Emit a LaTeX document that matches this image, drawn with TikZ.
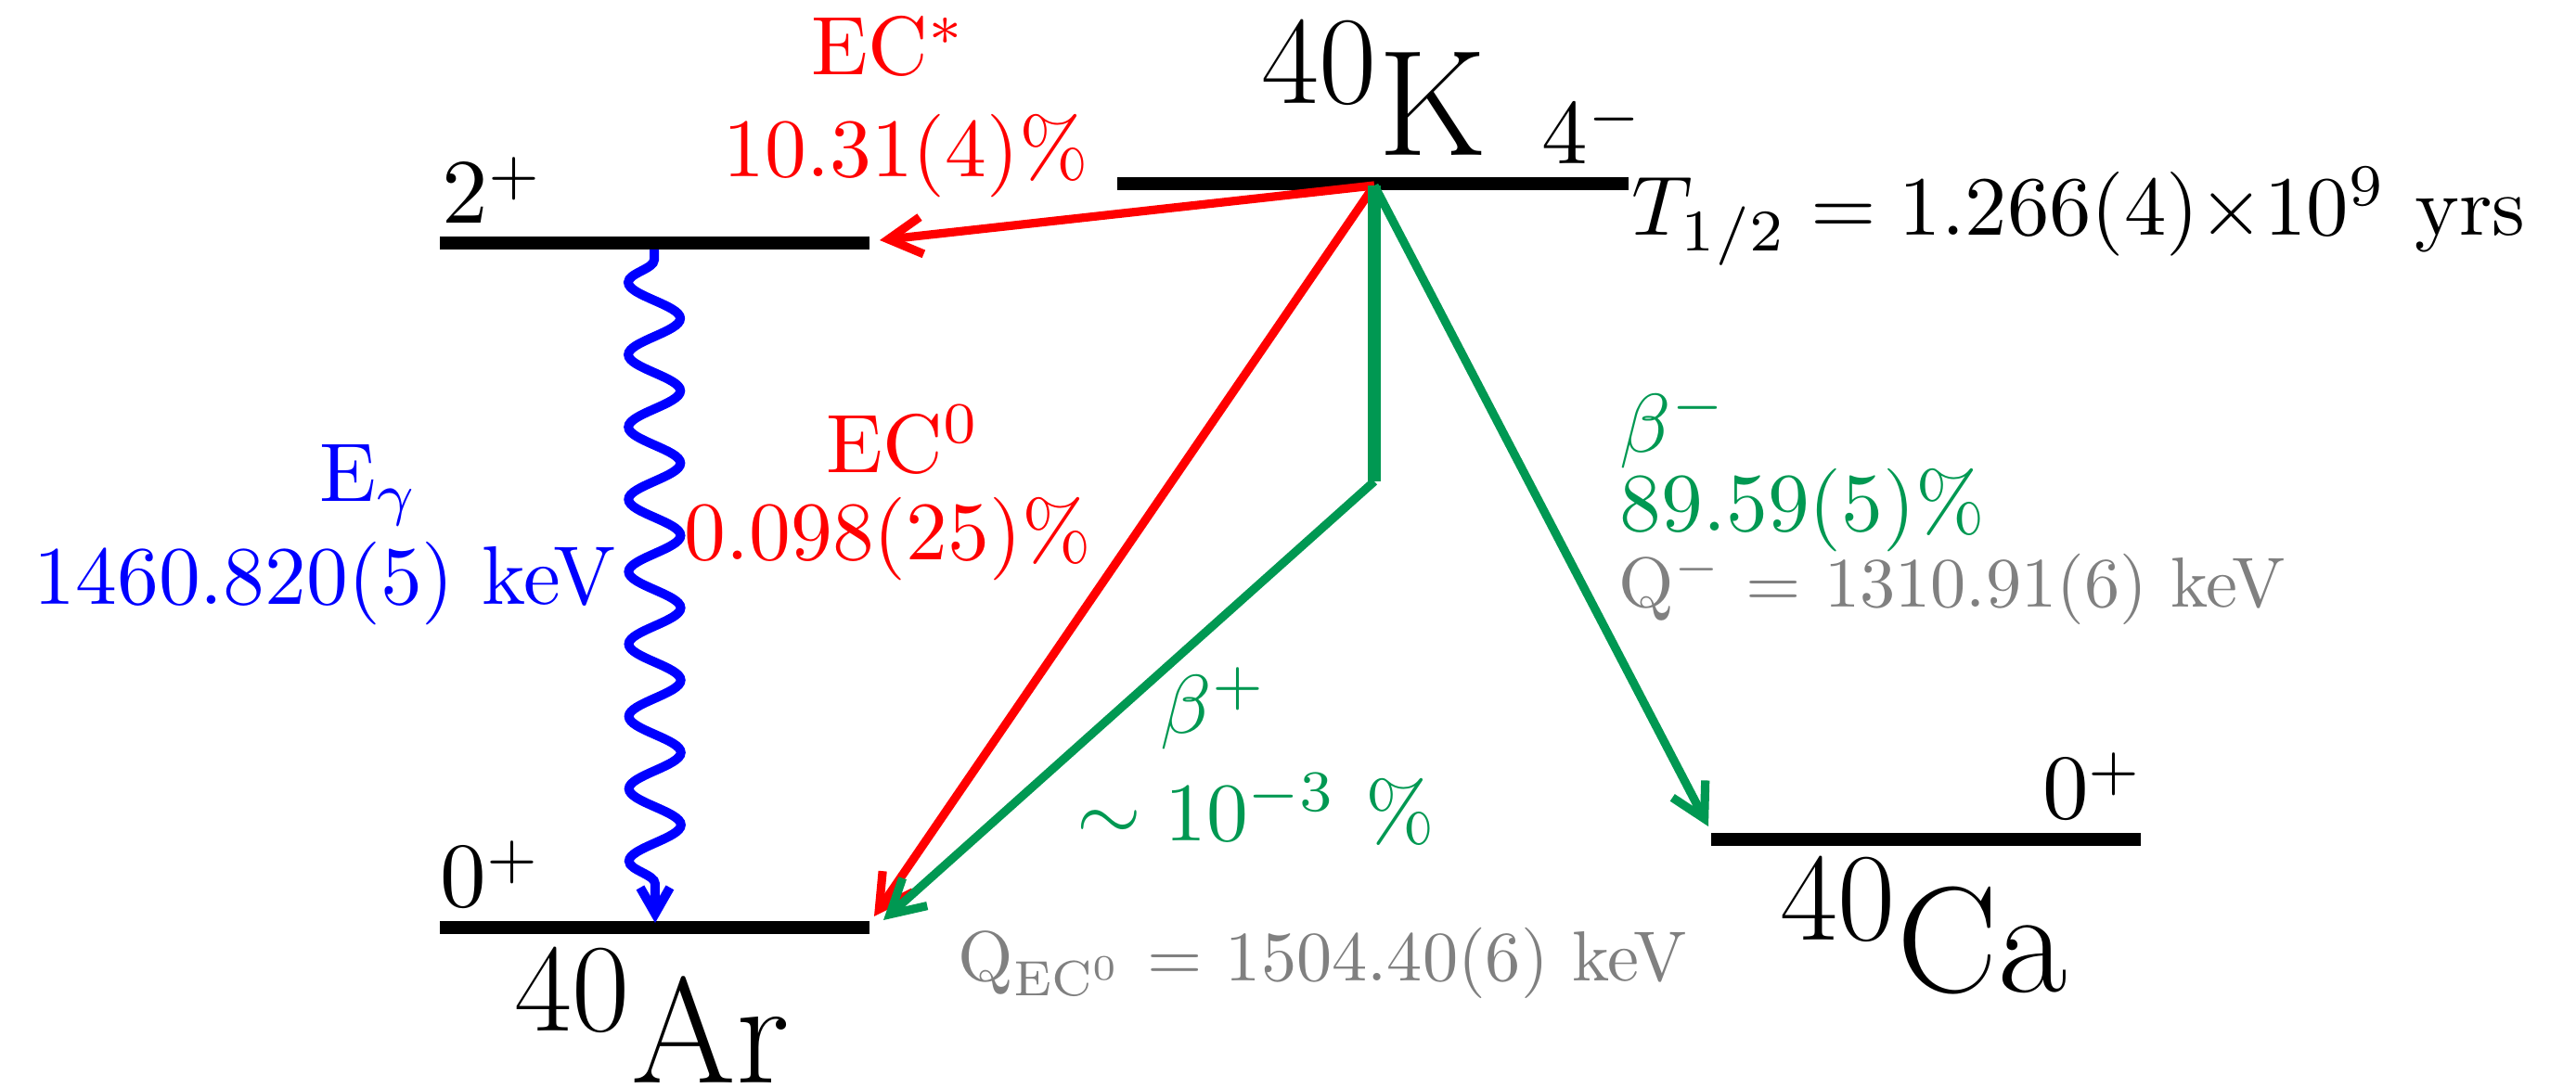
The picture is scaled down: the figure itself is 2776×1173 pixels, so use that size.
\RequirePackage{fix-cm}
\documentclass[tikz,border=0pt]{standalone}
\usepackage{graphicx}
\usetikzlibrary{arrows.meta,decorations.pathmorphing}
\definecolor{grn}{RGB}{0,152,82}
\definecolor{gry}{RGB}{128,128,128}
\newcommand\isotope[2]{\raisebox{14pt}{\fontsize{33.8}{40}\selectfont #1}\kern0.5pt{\fontsize{40.6}{48}\selectfont #2}}
\newcommand\Lt[1]{\scalebox{2.24}{#1}}
\newcommand\Lq[1]{\scalebox{1.91}{#1}}
\newcommand\Ll[1]{\scalebox{2.48}{#1}}
\newcommand\spin[2]{\Ll{#1}\Lt{$^{#2}$}}
\tikzset{
  level/.style={line width=3.5pt},
  lbl/.style={inner sep=0pt, anchor=base west},
  qlbl/.style={lbl, text=gry},
  iso/.style={inner sep=0pt, anchor=base west},
  arr/.style={line width=2.3pt, -{Straight Barb[length=9pt,width=10pt]}},
  wave/.style={blue, line width=2.5pt, -{Straight Barb[length=7pt,width=8pt]},
    decorate, decoration={snake, mirror, segment length=19.5pt, amplitude=7pt, pre length=2.75pt, post length=8.75pt}}
}
\begin{document}
\begin{tikzpicture}[x=0.25pt,y=-0.25pt]
\useasboundingbox (0,0) rectangle (2776,1173);
% levels
\coordinate (K1) at (1204,198); \coordinate (K2) at (1755,198);
\coordinate (AE1) at (474,262); \coordinate (AE2) at (937,262);
\coordinate (AG1) at (474,1000); \coordinate (AG2) at (937,1000);
\coordinate (C1) at (1844,905); \coordinate (C2) at (2307,905);
\draw[level] (K1) -- (K2);
\draw[level] (AE1) -- (AE2);
\draw[level] (AG1) -- (AG2);
\draw[level] (C1) -- (C2);
% transition end points
\coordinate (O) at (1481,200);
\coordinate (ECsE) at (948,259);
\coordinate (EC0E) at (942,988);
\coordinate (BpC) at (1481,519);
\coordinate (BpE) at (952,992);
\coordinate (BmE) at (1841,891);
\coordinate (GS) at (705,269);
\coordinate (GE) at (706,995);
% transitions
\draw[arr, red] (O) -- (ECsE);
\draw[arr, red] (O) -- (EC0E);
\draw[grn, line width=3.5pt] (O) -- (BpC);
\draw[arr, grn] (BpC) -- (BpE);
\draw[arr, grn] (O) -- (BmE);
\draw[wave] (GS) -- (GE);
% isotopes
\node[iso] (nK) at (1359,168) {\isotope{40}{K}};
\node[iso] (nAr) at (554,1168) {\isotope{40}{Ar}};
\node[iso] (nCa) at (1918,1070) {\isotope{40}{Ca}};
% spins
\node[lbl] (sK) at (1661,177) {\spin{4}{-}};
\node[lbl] (sAE) at (476,241) {\spin{2}{+}};
\node[lbl] (sAG) at (474,978) {\spin{0}{+}};
\node[lbl, anchor=base east] (sC) at (2311,883) {\spin{0}{+}};
% half life
\node[lbl] (hl) at (1758,254) {\scalebox{2.27}{$T_{1/2} = 1.266(4){\times}10^9$ yrs}};
% EC labels
\node[lbl, text=red] (ecs1) at (874,81) {\Lt{EC$^*$}};
\node[lbl, text=red] (ecs2) at (779,191) {\Lt{10.31(4)\%}};
\node[lbl, text=red] (ec01) at (890,510) {\Lt{EC$^0$}};
\node[lbl, text=red] (ec02) at (737,604) {\Lt{0.098(25)\%}};
% gamma
\node[lbl, text=blue] (g1) at (344,541) {\Lt{E$_\gamma$}};
\node[lbl, text=blue] (g2) at (36,652) {\Lt{1460.820(5) keV}};
% beta minus
\node[lbl, text=grn] (bm1) at (1745,488) {\Lt{$\beta^-$}};
\node[lbl, text=grn] (bm2) at (1745,573) {\Lt{89.59(5)\%}};
\node[qlbl] (qm) at (1744,655) {\Lq{Q$^-$ = 1310.91(6) keV}};
% beta plus
\node[lbl, text=grn] (bp1) at (1250,791) {\Lt{$\beta^+$}};
\node[lbl, text=grn] (bp2) at (1160,907) {\Lt{$\sim 10^{-3}$ \%}};
\node[qlbl] (qec) at (1032,1058) {\Lq{Q$_{\mathrm{EC}^0}$ = 1504.40(6) keV}};
\end{tikzpicture}
\end{document}
